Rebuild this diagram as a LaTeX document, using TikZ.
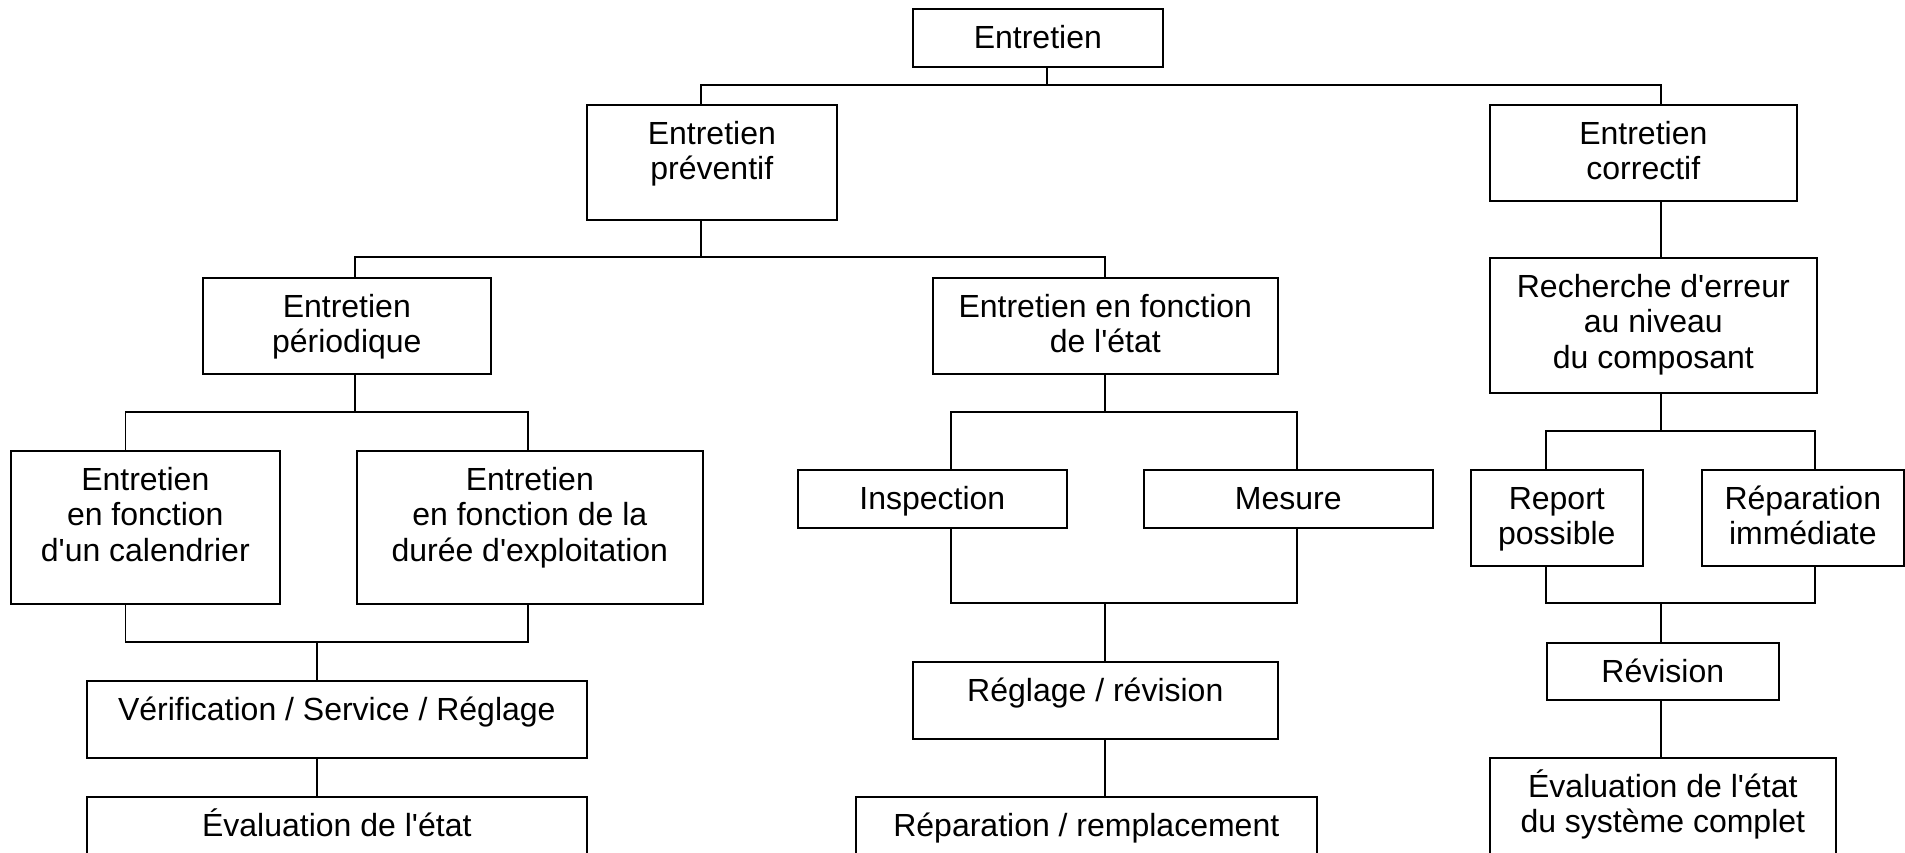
\documentclass[tikz,border=0pt]{standalone}
\usepackage{fontspec}
\setmainfont{Liberation Sans}
\newcommand\fl{\rule{0pt}{30pt}}
\newcommand\ap{\textquotesingle}
\tikzset{
  box/.style={draw, line width=1.6pt, rectangle, inner sep=0pt, anchor=north west},
  lab/.style={anchor=north, inner sep=0pt, yshift=-10pt, align=center, font=\fontsize{32}{35.5}\selectfont},
  conn/.style={line width=1.3pt},
}
\begin{document}
\begin{tikzpicture}[x=1pt,y=-1pt]
\useasboundingbox (0,0) rectangle (1905,852);
\clip (0,0) rectangle (1905,852);
% boxes
\node[box, minimum width=250pt, minimum height=58pt, label={[lab]north:{\fl Entretien}}] (top) at (912,8) {};
\node[box, minimum width=250pt, minimum height=115pt, label={[lab]north:{\fl Entretien\\préventif}}] (prev) at (586,104) {};
\node[box, minimum width=307pt, minimum height=96pt, label={[lab]north:{\fl Entretien\\correctif}}] (corr) at (1489,104) {};
\node[box, minimum width=288pt, minimum height=96pt, label={[lab]north:{\fl Entretien\\périodique}}] (per) at (202,277) {};
\node[box, minimum width=345pt, minimum height=96pt, label={[lab]north:{\fl Entretien en fonction\\de l\ap état}}] (etat) at (932,277) {};
\node[box, minimum width=327pt, minimum height=135pt, label={[lab]north:{\fl Recherche d\ap erreur\\au niveau\\du composant}}] (rech) at (1489,257) {};
\node[box, minimum width=269pt, minimum height=153pt, label={[lab]north:{\fl Entretien\\en fonction\\d\ap un calendrier}}] (cal) at (10,450) {};
\node[box, minimum width=346pt, minimum height=153pt, label={[lab]north:{\fl Entretien\\en fonction de la\\durée d\ap exploitation}}] (dur) at (356,450) {};
\node[box, minimum width=269pt, minimum height=58pt, label={[lab]north:{\fl Inspection}}] (insp) at (797,469) {};
\node[box, minimum width=289pt, minimum height=58pt, label={[lab]north:{\fl Mesure}}] (mes) at (1143,469) {};
\node[box, minimum width=172pt, minimum height=96pt, label={[lab]north:{\fl Report\\possible}}] (rep) at (1470,469) {};
\node[box, minimum width=202pt, minimum height=96pt, label={[lab]north:{\fl Réparation\\immédiate}}] (repimm) at (1701,469) {};
\node[box, minimum width=500pt, minimum height=77pt, label={[lab]north:{\fl Vérification / Service / Réglage}}] (verif) at (86,680) {};
\node[box, minimum width=365pt, minimum height=77pt, label={[lab]north:{\fl Réglage / révision}}] (regl) at (912,661) {};
\node[box, minimum width=232pt, minimum height=57pt, label={[lab]north:{\fl Révision}}] (revi) at (1546,642) {};
\node[box, minimum width=500pt, minimum height=90pt, label={[lab]north:{\fl Évaluation de l\ap état}}] (evalA) at (86,796) {};
\node[box, minimum width=461pt, minimum height=90pt, label={[lab]north:{\fl Réparation / remplacement}}] (repr) at (855,796) {};
\node[box, minimum width=346pt, minimum height=120pt, label={[lab]north:{\fl Évaluation de l\ap état\\du système complet}}] (evalB) at (1489,757) {};
% junction coordinates
\coordinate (a0) at (1047,85); \coordinate (a1) at (701,85); \coordinate (a2) at (1661,85);
\coordinate (b0) at (701,257); \coordinate (b1) at (355,257); \coordinate (b2) at (1105,257);
\coordinate (c0) at (355,412); \coordinate (c1) at (125.5,412); \coordinate (c2) at (528,412);
\coordinate (d0) at (317,642); \coordinate (d1) at (125.5,642); \coordinate (d2) at (528,642);
\coordinate (e0) at (1105,412); \coordinate (e1) at (951,412); \coordinate (e2) at (1297,412);
\coordinate (f0) at (1105,603); \coordinate (f1) at (951,603); \coordinate (f2) at (1297,603);
\coordinate (g0) at (1661,431); \coordinate (g1) at (1546,431); \coordinate (g2) at (1815,431);
\coordinate (h0) at (1661,603); \coordinate (h1) at (1546,603); \coordinate (h2) at (1815,603);
% connectors
\draw[conn] (top.south -| a0) -- (a0);
\draw[conn] (prev.north -| a1) -- (a1) -- (a2) -- (corr.north -| a2);
\draw[conn] (prev.south -| b0) -- (b0);
\draw[conn] (per.north -| b1) -- (b1) -- (b2) -- (etat.north -| b2);
\draw[conn] (per.south -| c0) -- (c0);
\draw[conn] (cal.north -| c1) -- (c1) -- (c2) -- (dur.north -| c2);
\draw[conn] (cal.south -| d1) -- (d1) -- (d2) -- (dur.south -| d2);
\draw[conn] (d0) -- (verif.north -| d0);
\draw[conn] (verif.south -| d0) -- (evalA.north -| d0);
\draw[conn] (etat.south -| e0) -- (e0);
\draw[conn] (insp.north -| e1) -- (e1) -- (e2) -- (mes.north -| e2);
\draw[conn] (insp.south -| f1) -- (f1) -- (f2) -- (mes.south -| f2);
\draw[conn] (f0) -- (regl.north -| f0);
\draw[conn] (regl.south -| f0) -- (repr.north -| f0);
\draw[conn] (corr.south -| g0) -- (rech.north -| g0);
\draw[conn] (rech.south -| g0) -- (g0);
\draw[conn] (rep.north -| g1) -- (g1) -- (g2) -- (repimm.north -| g2);
\draw[conn] (rep.south -| h1) -- (h1) -- (h2) -- (repimm.south -| h2);
\draw[conn] (h0) -- (revi.north -| h0);
\draw[conn] (revi.south -| h0) -- (evalB.north -| h0);
\end{tikzpicture}
\end{document}
